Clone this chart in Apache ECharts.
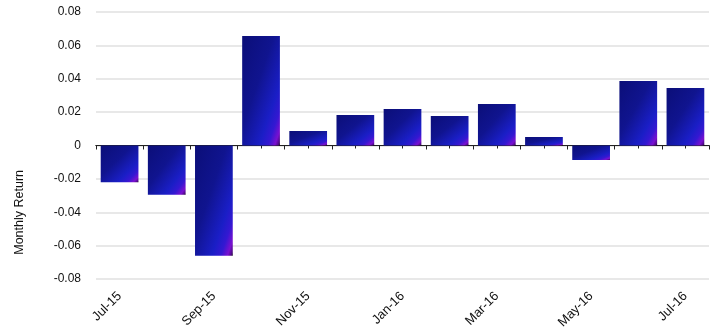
<!DOCTYPE html>
<html>
<head>
<meta charset="utf-8">
<script src="https://cdn.jsdelivr.net/npm/echarts@6/dist/echarts.min.js"></script>
<style>
  html, body { margin: 0; padding: 0; background: #fff; }
  #chart { width: 719px; height: 327px; }
</style>
</head>
<body>
<div id="chart"></div>
<script>
// Monthly return, Jul-2015 .. Jul-2016
const months = ['Jul-15', 'Aug-15', 'Sep-15', 'Oct-15', 'Nov-15', 'Dec-15', 'Jan-16',
                'Feb-16', 'Mar-16', 'Apr-16', 'May-16', 'Jun-16', 'Jul-16'];
const monthlyReturn = [-0.022, -0.0295, -0.066, 0.0656, 0.0087, 0.0183, 0.0219,
                       0.0177, 0.0249, 0.0051, -0.0087, 0.0386, 0.0344];
const yTicks = { min: -0.08, max: 0.08, step: 0.02 };
const yTitle = 'Monthly Return';

const font = 'Liberation Sans, Arial, sans-serif';
const gapRatio = 0.2;

const fillStops = [
  { offset: 0.0, color: '#0b0e78' },
  { offset: 0.42, color: '#10148f' },
  { offset: 0.72, color: '#1a1ec6' },
  { offset: 0.84, color: '#3418d2' },
  { offset: 0.93, color: '#7a10d0' },
  { offset: 0.98, color: '#4a0880' },
  { offset: 1.0, color: '#000000' }
];

// Diagonal fill whose colour bands run parallel to the bar's own
// bottom-left -> top-right diagonal, whatever the bar's aspect ratio.
function diagonalFill(w, h) {
  const s = w * w + h * h || 1;
  return new echarts.graphic.LinearGradient(0, 0, 2 * h * h / s, 2 * w * w / s, fillStops);
}

const plotBox = { left: 96, right: 10, top: 12, bottom: 48, containLabel: false, outerBoundsMode: 'none' };

const chart = echarts.init(document.getElementById('chart'), null, { renderer: 'canvas' });

chart.setOption({
  animation: false,
  backgroundColor: '#ffffff',
  // grid 1 is an overlay used only for the centre ticks on the zero line
  grid: [Object.assign({}, plotBox), Object.assign({}, plotBox)],
  xAxis: [
    { // month labels along the bottom of the plot
      type: 'category', data: months, gridIndex: 0, position: 'bottom',
      axisLine: { show: false, onZero: false },
      axisTick: { show: false },
      axisLabel: { interval: 1, rotate: 45, margin: 15, color: '#111',
                   fontFamily: font, fontSize: 13 }
    },
    { // zero line with ticks at category boundaries
      type: 'category', data: months, gridIndex: 0, position: 'bottom',
      axisLine: { show: true, onZero: true, lineStyle: { color: '#222', width: 1 } },
      axisTick: { show: true, interval: 0, length: 4, lineStyle: { color: '#222' } },
      axisLabel: { show: false }
    },
    { // short ticks under each category centre
      type: 'category', data: months, gridIndex: 1, position: 'bottom',
      axisLine: { show: true, onZero: true, lineStyle: { color: '#222', width: 1 } },
      axisTick: { show: true, interval: 0, alignWithLabel: true, length: 3, lineStyle: { color: '#222' } },
      axisLabel: { show: false }
    }
  ],
  yAxis: [
    {
      type: 'value', gridIndex: 0, min: yTicks.min, max: yTicks.max, interval: yTicks.step,
      axisLine: { show: false }, axisTick: { show: false },
      axisLabel: { margin: 15, color: '#111', fontFamily: font, fontSize: 12,
                   formatter: v => (Math.abs(v) < 1e-9 ? '0' : String(+v.toFixed(2))) },
      splitLine: { lineStyle: { color: '#e0e0e0', width: 1.5 } }
    },
    {
      type: 'value', gridIndex: 1, min: yTicks.min, max: yTicks.max, interval: yTicks.step,
      show: false, splitLine: { show: false }
    }
  ],
  graphic: [{
    type: 'text', left: 13, top: 170, rotation: Math.PI / 2,
    style: { text: yTitle, fill: '#111', font: '12.5px ' + font }
  }],
  series: [{
    type: 'bar', xAxisIndex: 0, yAxisIndex: 0, data: monthlyReturn,
    barCategoryGap: (gapRatio * 100) + '%',
    z: 1,
    itemStyle: { color: '#11159a' }
  }]
});

// Second pass: size each bar's gradient from its on-screen extent.
const y0 = chart.convertToPixel({ yAxisIndex: 0 }, 0);
const bandW = chart.convertToPixel({ xAxisIndex: 0 }, months[1]) -
              chart.convertToPixel({ xAxisIndex: 0 }, months[0]);
const barW = bandW * (1 - gapRatio);
chart.setOption({
  series: [{
    data: monthlyReturn.map(v => {
      const h = Math.abs(chart.convertToPixel({ yAxisIndex: 0 }, v) - y0);
      return { value: v, itemStyle: { color: diagonalFill(barW, h) } };
    })
  }]
});
</script>
</body>
</html>
